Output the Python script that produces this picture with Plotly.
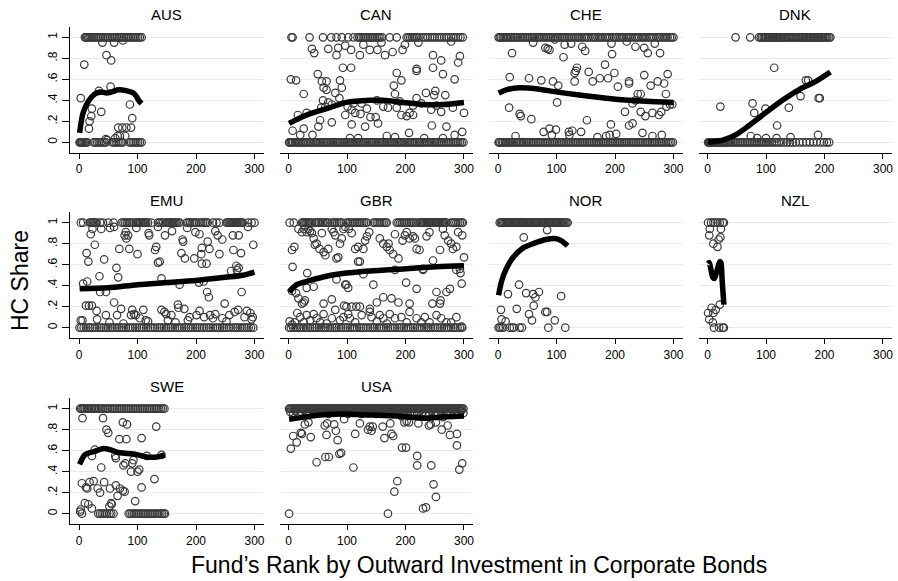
import plotly.graph_objects as go

# ---------------------------------------------------------------- data
countries = ["AUS", "CAN", "CHE", "DNK", "EMU", "GBR", "NOR", "NZL", "SWE", "USA"]

# AUS
aus_ones = [10, 12, 14, 16, 18, 20, 23, 26, 29, 32, 35, 38, 41, 44, 47, 50, 53, 56, 59, 62,
            65, 68, 71, 74, 77, 80, 83, 86, 89, 92, 95, 98, 101, 104, 107]
aus_zeros = [1, 2, 3, 4, 5, 6, 8, 10, 12, 14, 25, 28, 31, 34, 37, 40, 43, 46, 57, 60, 63,
             66, 69, 72, 75, 86, 89, 92, 95, 98, 101, 104, 107]
aus_mid_x = [40, 60, 75, 47, 55, 9, 3, 34, 54, 38, 22, 21, 18, 17, 87, 91, 67, 74, 81, 89,
             66, 70, 79, 46, 48, 62]
aus_mid_y = [0.95, 0.95, 0.97, 0.83, 0.78, 0.74, 0.42, 0.49, 0.53, 0.29, 0.32, 0.25, 0.20,
             0.13, 0.36, 0.23, 0.14, 0.14, 0.14, 0.14, 0.06, 0.06, 0.06, 0.03, 0.02, 0.04]
aus_fit_x = [1, 7, 16, 27, 36, 47, 56, 67, 82, 93, 99, 102, 107]
aus_fit_y = [0.09, 0.28, 0.39, 0.46, 0.48, 0.47, 0.48, 0.50, 0.49, 0.47, 0.43, 0.40, 0.37]

# CAN
can_ones = [5, 7, 36, 59, 73, 82, 91, 102, 111, 118, 121, 124, 127, 130, 133, 136, 139, 142,
            145, 148, 151, 154, 157, 160, 173, 185, 202, 205, 208, 211, 214, 217, 220, 224,
            230, 234, 238, 242, 246, 250, 254, 258, 262, 266, 270, 274, 278, 282, 286, 290,
            294, 298]
can_zeros = [1, 2, 4, 6, 8, 11, 13, 16, 18, 21, 24, 26, 29, 31, 34, 37, 39, 42, 45, 47, 50,
             53, 55, 58, 61, 64, 66, 69, 72, 74, 77, 80, 83, 85, 88, 91, 94, 96, 99, 102, 105,
             107, 110, 113, 116, 118, 121, 124, 127, 130, 132, 135, 138, 141, 143, 146, 149,
             152, 155, 157, 160, 163, 166, 169, 171, 174, 177, 180, 183, 186, 188, 191, 194,
             197, 200, 203, 205, 208, 211, 214, 217, 220, 223, 225, 228, 231, 234, 237, 240,
             243, 246, 249, 251, 254, 257, 260, 263, 266, 269, 272, 275, 278, 281, 284, 287,
             290, 293, 296, 299]
can_mid_x = [40, 44, 68, 82, 85, 97, 107, 122, 128, 139, 152, 159, 165, 178, 195, 199, 222,
             247, 261, 278, 290, 293, 93, 107, 185, 193, 219, 219, 247, 264, 284, 4, 13, 50,
             57, 65, 60, 65, 88, 91, 80, 87, 26, 180, 182, 219, 235, 249, 251, 268, 59, 68,
             63, 56, 74, 101, 108, 111, 125, 134, 151, 162, 170, 185, 190, 213, 227, 244, 253,
             261, 281, 300, 16, 31, 54, 51, 74, 97, 114, 123, 140, 149, 153, 108, 131, 193,
             202, 207, 213, 245, 270, 297, 26, 7, 20, 41, 206, 168, 182, 232, 264, 284, 105,
             119]
can_mid_y = [0.89, 0.85, 0.89, 0.83, 0.90, 0.92, 0.88, 0.83, 0.93, 0.88, 0.88, 0.95, 0.83,
             0.86, 0.88, 0.93, 0.95, 0.83, 0.78, 0.96, 0.76, 0.82, 0.71, 0.71, 0.66, 0.59,
             0.70, 0.68, 0.71, 0.65, 0.60, 0.60, 0.59, 0.65, 0.58, 0.58, 0.52, 0.50, 0.59,
             0.52, 0.47, 0.42, 0.46, 0.54, 0.46, 0.42, 0.47, 0.45, 0.49, 0.45, 0.40, 0.38,
             0.34, 0.33, 0.36, 0.34, 0.31, 0.37, 0.37, 0.32, 0.40, 0.34, 0.33, 0.33, 0.39,
             0.35, 0.37, 0.31, 0.35, 0.29, 0.33, 0.28, 0.26, 0.28, 0.21, 0.15, 0.19, 0.26,
             0.28, 0.27, 0.24, 0.24, 0.18, 0.17, 0.15, 0.26, 0.25, 0.28, 0.26, 0.16, 0.15,
             0.10, 0.13, 0.11, 0.07, 0.07, 0.09, 0.06, 0.05, 0.04, 0.04, 0.07, 0.04, 0.04]
can_fit_x = [1, 31, 65, 99, 139, 162, 196, 230, 264, 300]
can_fit_y = [0.18, 0.26, 0.32, 0.38, 0.40, 0.40, 0.38, 0.36, 0.36, 0.38]

# CHE
che_ones = [1, 3, 5, 8, 10, 13, 15, 18, 21, 23, 26, 29, 32, 34, 37, 40, 43, 46, 49, 52, 55,
            58, 61, 63, 66, 69, 72, 76, 79, 82, 85, 88, 91, 94, 97, 100, 103, 106, 109, 112,
            115, 118, 121, 124, 127, 131, 134, 137, 140, 143, 147, 150, 153, 156, 160, 163,
            166, 170, 173, 176, 179, 183, 186, 189, 192, 196, 199, 202, 206, 209, 212, 215,
            219, 222, 225, 228, 232, 235, 238, 241, 245, 248, 251, 254, 258, 261, 264, 267,
            271, 274, 277, 281, 284, 287, 290, 294, 297, 300]
che_zeros = [1, 2, 4, 7, 9, 12, 14, 17, 20, 22, 25, 28, 31, 33, 36, 39, 42, 45, 48, 50, 53,
             56, 59, 62, 65, 68, 71, 74, 77, 80, 83, 86, 89, 92, 95, 98, 101, 104, 107, 110,
             113, 116, 119, 122, 125, 128, 131, 134, 137, 140, 143, 146, 149, 152, 155, 158,
             161, 164, 167, 170, 173, 176, 179, 182, 185, 188, 191, 194, 197, 200, 203, 206,
             209, 212, 215, 218, 221, 224, 227, 230, 233, 236, 239, 242, 245, 248, 251, 254,
             257, 260, 263, 266, 269, 272, 275, 278, 281, 284, 287, 290, 293, 296, 299]
che_mid_x = [60, 24, 81, 85, 88, 97, 114, 125, 112, 144, 149, 194, 195, 220, 235, 250, 256,
             268, 277, 20, 53, 74, 94, 103, 131, 135, 133, 131, 155, 162, 174, 183, 188, 199,
             205, 224, 224, 239, 244, 250, 261, 273, 284, 290, 287, 101, 19, 37, 39, 57, 152,
             217, 230, 235, 244, 252, 264, 275, 279, 288, 294, 298, 193, 224, 230, 247, 264,
             280, 30, 78, 88, 92, 99, 121, 122, 127, 142, 170, 185, 191, 202]
che_mid_y = [0.95, 0.85, 0.90, 0.89, 0.88, 0.98, 0.93, 0.94, 0.81, 0.91, 0.87, 0.94, 0.84,
             0.96, 0.91, 0.90, 0.85, 0.94, 0.85, 0.62, 0.61, 0.59, 0.58, 0.54, 0.66, 0.71,
             0.68, 0.58, 0.67, 0.58, 0.61, 0.74, 0.61, 0.66, 0.53, 0.58, 0.56, 0.46, 0.46,
             0.64, 0.54, 0.58, 0.56, 0.65, 0.46, 0.38, 0.33, 0.27, 0.25, 0.22, 0.21, 0.29,
             0.37, 0.40, 0.29, 0.25, 0.28, 0.26, 0.29, 0.34, 0.36, 0.36, 0.17, 0.16, 0.18,
             0.09, 0.06, 0.07, 0.06, 0.10, 0.13, 0.07, 0.12, 0.10, 0.07, 0.11, 0.10, 0.05,
             0.06, 0.07, 0.08]
che_fit_x = [1, 14, 37, 65, 99, 139, 185, 224, 253, 300]
che_fit_y = [0.47, 0.50, 0.52, 0.51, 0.48, 0.45, 0.42, 0.40, 0.39, 0.38]

# DNK
dnk_ones = [48, 73, 88, 91, 93, 96, 98, 100, 103, 105, 107, 110, 112, 114, 117, 119, 121, 124,
            126, 128, 131, 133, 135, 138, 140, 142, 145, 147, 149, 152, 154, 156, 159, 161, 163,
            166, 168, 170, 173, 175, 177, 180, 182, 184, 187, 189, 191, 194, 196, 198, 201,
            203, 205, 208, 210]
dnk_zeros = [1, 2, 3, 4, 5, 6, 7, 8, 9, 10, 11, 12, 13, 14, 15, 16, 18, 20, 22, 24, 26, 28, 30,
             32, 35, 38, 40, 43, 46, 49, 52, 55, 58, 61, 64, 67, 70, 73, 76, 79, 82, 85, 88,
             91, 94, 97, 100, 103, 106, 110, 114, 118, 122, 126, 131, 136, 141, 146, 151, 157,
             163, 169, 175, 181, 187, 193, 199, 204, 208]
dnk_mid_x = [114, 168, 172, 159, 190, 192, 22, 77, 80, 99, 139, 119, 189, 74, 85, 100, 118, 142]
dnk_mid_y = [0.71, 0.59, 0.59, 0.44, 0.42, 0.42, 0.34, 0.37, 0.28, 0.32, 0.33, 0.16, 0.07,
             0.06, 0.04, 0.04, 0.04, 0.05]
dnk_fit_x = [1, 26, 48, 71, 99, 128, 156, 185, 210]
dnk_fit_y = [0.0, 0.02, 0.07, 0.16, 0.28, 0.40, 0.50, 0.58, 0.67]

# EMU
emu_ones = [3, 7, 18, 20, 22, 24, 26, 28, 30, 36, 41, 50, 59, 73, 76, 79, 82, 85, 88, 92, 97,
            99, 101, 103, 105, 107, 109, 111, 113, 115, 118, 124, 135, 138, 141, 144, 149, 151,
            153, 155, 157, 159, 161, 163, 165, 167, 170, 172, 184, 187, 190, 193, 196, 199, 201,
            206, 209, 212, 215, 218, 220, 229, 235, 240, 252, 254, 256, 258, 260, 262, 264,
            266, 268, 270, 272, 274, 276, 278, 280, 289, 295, 300]
emu_zeros = [1, 4, 8, 12, 16, 19, 23, 27, 31, 35, 38, 42, 46, 50, 54, 57, 61, 65, 69, 73, 76,
             80, 84, 88, 92, 96, 99, 103, 107, 111, 115, 118, 122, 126, 130, 134, 138, 141,
             145, 149, 153, 157, 160, 164, 168, 172, 176, 180, 183, 187, 191, 195, 199, 202,
             206, 210, 214, 218, 222, 225, 229, 233, 237, 241, 245, 248, 252, 256, 260, 264,
             268, 271, 275, 279, 283, 287, 290, 294, 298]
emu_mid_x = [3, 6, 7, 14, 13, 16, 20, 23, 12, 17, 22, 27, 30, 35, 36, 31, 38, 43, 46, 46, 52,
             53, 60, 60, 64, 67, 69, 65, 72, 76, 78, 80, 81, 84, 86, 89, 91, 94, 97, 98, 100,
             104, 110, 114, 118, 119, 120, 130, 132, 135, 138, 141, 135, 141, 146, 147, 149,
             152, 158, 159, 165, 169, 170, 172, 175, 177, 178, 181, 180, 185, 186, 189, 197,
             199, 201, 205, 206, 206, 209, 210, 210, 214, 213, 218, 219, 222, 220, 223, 224,
             229, 233, 233, 237, 240, 245, 245, 249, 252, 257, 260, 263, 264, 266, 269, 270,
             272, 273, 273, 277, 278, 283, 287, 289, 293, 297, 298, 295]
emu_mid_y = [0.07, 0.07, 0.42, 0.44, 0.71, 0.63, 0.89, 0.94, 0.21, 0.21, 0.21, 0.79, 0.16,
             0.49, 0.34, 0.08, 0.94, 0.65, 0.34, 0.12, 0.05, 0.95, 0.96, 0.24, 0.57, 0.48,
             0.75, 0.12, 0.18, 0.04, 0.88, 0.91, 0.85, 0.88, 0.75, 0.12, 0.17, 0.13, 0.12,
             0.95, 0.70, 0.09, 0.17, 0.07, 0.06, 0.90, 0.88, 0.74, 0.77, 0.62, 0.63, 0.47,
             0.96, 0.17, 0.15, 0.88, 0.13, 0.07, 0.12, 0.92, 0.05, 0.22, 0.19, 0.41, 0.71,
             0.84, 0.82, 0.66, 0.18, 0.95, 0.07, 0.10, 0.66, 0.91, 0.12, 0.43, 0.89, 0.16,
             0.70, 0.76, 0.61, 0.10, 0.44, 0.61, 0.34, 0.29, 0.82, 0.75, 0.12, 0.09, 0.13,
             0.92, 0.88, 0.70, 0.84, 0.09, 0.23, 0.06, 0.12, 0.54, 0.88, 0.74, 0.15, 0.59,
             0.55, 0.17, 0.57, 0.88, 0.71, 0.34, 0.10, 0.16, 0.96, 0.14, 0.10, 0.79, 0.08]
emu_fit_x = [1, 50, 100, 150, 200, 250, 280, 300]
emu_fit_y = [0.37, 0.38, 0.41, 0.43, 0.45, 0.48, 0.50, 0.53]

# GBR
gbr_ones = [2, 9, 23, 25, 27, 29, 31, 33, 35, 37, 40, 45, 47, 50, 52, 55, 58, 60, 63, 66, 68,
            74, 77, 80, 83, 86, 89, 91, 99, 102, 105, 108, 111, 114, 117, 120, 123, 126, 129,
            132, 134, 145, 148, 151, 154, 157, 160, 163, 166, 168, 185, 188, 191, 194, 197,
            200, 203, 206, 209, 212, 215, 219, 224, 226, 228, 230, 232, 234, 236, 238, 240,
            242, 244, 246, 248, 250, 252, 254, 256, 258, 260, 262, 264, 266, 268, 270, 278,
            281, 284, 287, 290, 293, 296, 298]
gbr_zeros = [1, 4, 8, 12, 15, 19, 22, 26, 30, 33, 37, 41, 45, 48, 52, 56, 60, 63, 67, 71, 75,
             79, 82, 86, 90, 94, 98, 101, 105, 109, 113, 117, 121, 124, 128, 132, 136, 140,
             144, 147, 151, 155, 159, 163, 167, 170, 174, 178, 182, 186, 190, 193, 197, 201,
             205, 209, 213, 216, 220, 224, 228, 232, 236, 239, 243, 247, 251, 255, 259, 262,
             266, 270, 274, 278, 282, 285, 289, 293, 297]
gbr_mid_x = [6, 10, 7, 17, 23, 26, 31, 34, 37, 40, 43, 45, 48, 53, 57, 60, 63, 68, 74, 77, 80,
             82, 85, 88, 91, 94, 97, 103, 108, 114, 119, 119, 122, 128, 131, 134, 138, 156,
             162, 168, 171, 173, 179, 182, 188, 195, 199, 202, 207, 213, 216, 219, 224, 230,
             236, 241, 247, 259, 264, 267, 273, 278, 281, 287, 290, 293, 294, 296, 300, 297,
             6, 13, 17, 23, 26, 28, 31, 32, 43, 60, 74, 82, 97, 99, 102, 95, 99, 108, 116, 122,
             128, 139, 145, 151, 162, 176, 182, 188, 201, 207, 219, 230, 246, 253, 259, 260,
             270, 276, 287,
             2, 6, 11, 15, 20, 26, 31, 37, 43, 48, 54, 60, 65, 74, 80, 88, 94, 102, 105, 114,
             125, 139, 142, 151, 156, 162, 168, 173, 182, 193, 202, 207, 219, 227, 233, 241,
             253, 261, 270, 278, 287, 296]
gbr_mid_y = [0.74, 0.77, 0.58, 0.94, 0.91, 0.94, 0.91, 0.94, 0.92, 0.90, 0.85, 0.79, 0.80,
             0.75, 0.90, 0.72, 0.69, 0.75, 0.94, 0.91, 0.88, 0.66, 0.67, 0.80, 0.85, 0.94,
             0.96, 0.94, 0.90, 0.75, 0.77, 0.63, 0.63, 0.75, 0.83, 0.87, 0.91, 0.85, 0.80,
             0.77, 0.80, 0.74, 0.70, 0.89, 0.66, 0.83, 0.88, 0.91, 0.85, 0.87, 0.85, 0.75,
             0.74, 0.56, 0.87, 0.91, 0.64, 0.74, 0.94, 0.88, 0.83, 0.80, 0.75, 0.77, 0.91,
             0.56, 0.52, 0.42, 0.67, 0.88,
             0.35, 0.33, 0.28, 0.23, 0.24, 0.26, 0.38, 0.52, 0.39, 0.23, 0.27, 0.46, 0.41,
             0.41, 0.38, 0.21, 0.20, 0.20, 0.20, 0.20, 0.51, 0.18, 0.41, 0.24, 0.29, 0.28,
             0.55, 0.24, 0.43, 0.23, 0.37, 0.55, 0.23, 0.34, 0.23, 0.26, 0.34, 0.37, 0.55,
             0.06, 0.03, 0.05, 0.14, 0.10, 0.05, 0.12, 0.07, 0.13, 0.09, 0.05, 0.13, 0.04,
             0.09, 0.17, 0.07, 0.10, 0.13, 0.09, 0.05, 0.12, 0.15, 0.10, 0.06, 0.12, 0.09,
             0.04, 0.13, 0.09, 0.10, 0.05, 0.15, 0.09, 0.05, 0.10, 0.05, 0.12, 0.09, 0.05,
             0.05, 0.10, 0.01]
gbr_fit_x = [1, 14, 37, 65, 99, 139, 196, 253, 300]
gbr_fit_y = [0.34, 0.41, 0.45, 0.49, 0.52, 0.54, 0.56, 0.58, 0.59]

# NOR
nor_ones = [3, 5, 7, 9, 11, 13, 15, 17, 19, 21, 23, 25, 27, 29, 31, 33, 35, 37, 39, 41, 43,
            45, 47, 49, 51, 53, 55, 57, 59, 61, 63, 65, 67, 69, 71, 73, 75, 77, 79, 81, 83, 85,
            87, 89, 91, 93, 95, 97, 99, 101, 103, 105, 107, 109, 111, 113, 115, 117, 119]
nor_zeros = [1, 3, 6, 9, 20, 24, 27, 37, 41, 86, 115]
nor_mid_x = [84, 44, 36, 17, 48, 60, 64, 70, 108, 61, 32, 5, 53, 81, 84, 6, 13, 58, 97]
nor_mid_y = [0.93, 0.86, 0.41, 0.32, 0.33, 0.32, 0.29, 0.34, 0.30, 0.21, 0.18, 0.17, 0.13,
             0.15, 0.15, 0.08, 0.06, 0.07, 0.07]
nor_fit_x = [1, 6, 14, 26, 43, 60, 82, 97, 108, 119]
nor_fit_y = [0.31, 0.44, 0.56, 0.67, 0.76, 0.80, 0.84, 0.85, 0.83, 0.78]

# NZL
nzl_ones = [1, 6, 10, 13, 17, 21, 26, 28]
nzl_zeros = [11, 20, 26, 28]
nzl_mid_x = [4, 23, 3, 22, 19, 10, 17, 7, 14, 21, 1, 10, 3, 9]
nzl_mid_y = [0.94, 0.94, 0.88, 0.86, 0.84, 0.80, 0.77, 0.19, 0.17, 0.22, 0.14, 0.14, 0.08,
             0.05]
nzl_fit_x = [1, 3, 6, 9, 12, 15, 18, 21, 23, 25, 27, 28]
nzl_fit_y = [0.61, 0.62, 0.55, 0.48, 0.47, 0.52, 0.58, 0.63, 0.62, 0.45, 0.30, 0.22]

# SWE
swe_ones = [2, 4, 6, 8, 10, 13, 15, 17, 20, 22, 25, 27, 30, 33, 35, 38, 41, 44, 47, 50, 53,
            56, 59, 62, 65, 68, 71, 74, 77, 80, 83, 86, 89, 92, 95, 98, 101, 104, 107, 110,
            113, 116, 119, 122, 125, 128, 131, 134, 137, 140, 143, 146]
swe_zeros = [5, 33, 36, 39, 42, 45, 48, 52, 55, 59, 85, 88, 91, 94, 97, 100, 103, 106, 109,
             112, 115, 118, 121, 124, 127, 130, 133, 136, 139, 142, 145, 147]
swe_mid_x = [6, 41, 75, 82, 47, 50, 69, 81, 107, 132, 5, 22, 27, 38, 43, 18, 25, 12, 14, 32,
             36, 53, 63, 66, 70, 75, 78, 76, 79, 91, 93, 89, 100, 103, 107, 96, 129, 116, 141,
             62, 63, 56, 52, 55, 2, 3, 10, 16, 22]
swe_mid_y = [0.91, 0.91, 0.87, 0.85, 0.80, 0.77, 0.71, 0.71, 0.72, 0.83, 0.29, 0.55, 0.61,
             0.44, 0.30, 0.30, 0.31, 0.25, 0.24, 0.24, 0.20, 0.24, 0.27, 0.17, 0.24, 0.22,
             0.21, 0.46, 0.48, 0.48, 0.51, 0.40, 0.40, 0.42, 0.25, 0.12, 0.33, 0.55, 0.56,
             0.55, 0.53, 0.09, 0.07, 0.10, 0.02, 0.04, 0.10, 0.09, 0.05]
swe_fit_x = [1, 10, 25, 42, 53, 70, 93, 116, 133, 147]
swe_fit_y = [0.47, 0.56, 0.59, 0.62, 0.61, 0.58, 0.57, 0.54, 0.54, 0.56]

# USA
usa_ones = [1, 3, 5, 7, 9, 11, 13, 15, 17, 19, 21, 23, 25, 27, 29, 31, 33, 35, 37, 39, 41, 43,
            45, 47, 49, 51, 53, 55, 57, 59, 61, 63, 65, 67, 69, 71, 73, 75, 77, 79, 81, 83, 85,
            87, 89, 91, 93, 95, 97, 99, 101, 103, 105, 107, 109, 111, 113, 115, 117, 119, 121,
            123, 125, 127, 129, 131, 133, 135, 137, 139, 141, 143, 145, 147, 149, 151, 153,
            155, 157, 159, 161, 163, 165, 167, 169, 171, 173, 175, 177, 179, 181, 183, 185,
            187, 189, 191, 193, 195, 197, 199, 201, 203, 205, 207, 209, 211, 213, 215, 217,
            219, 221, 223, 225, 227, 229, 231, 233, 235, 237, 239, 241, 243, 245, 247, 249,
            251, 253, 255, 257, 259, 261, 263, 265, 267, 269, 271, 273, 275, 277, 279, 281,
            283, 285, 287, 289, 291, 293, 295, 297, 299]
usa_zeros = [1, 170]
usa_mid_x = [3, 8, 12, 17, 22, 26, 31, 36, 41, 45, 50, 55, 59, 64, 69, 73, 78, 83, 88, 92, 97,
             102, 106, 111, 116, 121, 125, 130, 135, 140, 145, 150, 155, 160, 165, 170, 175,
             180, 185, 190, 195, 200, 205, 210, 215, 220, 225, 230, 235, 240, 245, 250, 255,
             260, 265, 270, 275, 280, 285, 290, 295, 299,
             4, 8, 14, 21, 23, 28, 34, 38, 48, 62, 66, 65, 63, 69, 78, 81, 84, 87, 90, 95, 111,
             114, 122, 136, 139, 142, 144, 161, 164, 174, 176, 179, 181, 186, 194, 201, 198,
             202, 206, 220, 220, 222, 230, 235, 240, 243, 244, 248, 252, 252, 262, 272, 276,
             288, 288, 292, 297, 264, 234, 193]
usa_mid_y = [0.97, 0.96, 0.98, 0.95, 0.97, 0.99, 0.96, 0.97, 0.98, 0.95, 0.97, 0.96, 0.98,
             0.97, 0.95, 0.98, 0.96, 0.97, 0.99, 0.96, 0.97, 0.95, 0.98, 0.96, 0.97, 0.98,
             0.95, 0.97, 0.96, 0.98, 0.97, 0.95, 0.98, 0.96, 0.97, 0.99, 0.96, 0.97, 0.95,
             0.98, 0.96, 0.97, 0.98, 0.95, 0.97, 0.96, 0.98, 0.97, 0.95, 0.96, 0.98, 0.97,
             0.96, 0.98, 0.95, 0.97, 0.96, 0.98, 0.97, 0.95, 0.98, 0.96,
             0.62, 0.74, 0.68, 0.77, 0.76, 0.85, 0.87, 0.73, 0.49, 0.84, 0.86, 0.75, 0.54,
             0.54, 0.85, 0.79, 0.70, 0.57, 0.58, 0.90, 0.44, 0.76, 0.86, 0.80, 0.83, 0.79,
             0.83, 0.83, 0.72, 0.86, 0.76, 0.74, 0.21, 0.31, 0.63, 0.63, 0.87, 0.88, 0.87,
             0.55, 0.46, 0.86, 0.05, 0.06, 0.84, 0.85, 0.46, 0.28, 0.16, 0.87, 0.80, 0.84,
             0.75, 0.76, 0.65, 0.42, 0.48, 0.92, 0.94, 0.93]
usa_fit_x = [1, 26, 54, 94, 139, 185, 230, 264, 300]
usa_fit_y = [0.90, 0.92, 0.94, 0.95, 0.94, 0.93, 0.91, 0.92, 0.93]

panels = {
    "AUS": (aus_ones, aus_zeros, aus_mid_x, aus_mid_y, aus_fit_x, aus_fit_y),
    "CAN": (can_ones, can_zeros, can_mid_x, can_mid_y, can_fit_x, can_fit_y),
    "CHE": (che_ones, che_zeros, che_mid_x, che_mid_y, che_fit_x, che_fit_y),
    "DNK": (dnk_ones, dnk_zeros, dnk_mid_x, dnk_mid_y, dnk_fit_x, dnk_fit_y),
    "EMU": (emu_ones, emu_zeros, emu_mid_x, emu_mid_y, emu_fit_x, emu_fit_y),
    "GBR": (gbr_ones, gbr_zeros, gbr_mid_x, gbr_mid_y, gbr_fit_x, gbr_fit_y),
    "NOR": (nor_ones, nor_zeros, nor_mid_x, nor_mid_y, nor_fit_x, nor_fit_y),
    "NZL": (nzl_ones, nzl_zeros, nzl_mid_x, nzl_mid_y, nzl_fit_x, nzl_fit_y),
    "SWE": (swe_ones, swe_zeros, swe_mid_x, swe_mid_y, swe_fit_x, swe_fit_y),
    "USA": (usa_ones, usa_zeros, usa_mid_x, usa_mid_y, usa_fit_x, usa_fit_y),
}

y_tick_vals = [0, 0.2, 0.4, 0.6, 0.8, 1]
y_tick_text = ["0", ".2", ".4", ".6", ".8", "1"]
x_tick_vals = [0, 100, 200, 300]

# ---------------------------------------------------------------- layout geometry
W, H = 898, 581
COL_LEFT = [70, 279.5, 489, 698.5]
PANEL_W = 193.5
ROW_TOP = [26.8, 212.2, 398.2]
PANEL_H = 126
X_RANGE = [-15.4, 315.4]
Y_RANGE = [-0.1, 1.1]

FONT = "Liberation Sans, Arial, Helvetica, sans-serif"
MARKER_COLOR = "#3a3a3a"
GRID_COLOR = "#e4edf0"

fig = go.Figure()
layout = dict(
    width=W, height=H,
    margin=dict(l=0, r=0, t=0, b=0),
    paper_bgcolor="white", plot_bgcolor="white",
    showlegend=False,
    font=dict(family=FONT, color="black"),
    annotations=[],
)

for i, name in enumerate(countries):
    ones, zeros, mid_x, mid_y, fit_x, fit_y = panels[name]
    row, col = divmod(i, 4)
    ax = "" if i == 0 else str(i + 1)

    xs = list(ones) + list(zeros) + list(mid_x)
    ys = [1.0] * len(ones) + [0.0] * len(zeros) + list(mid_y)

    fig.add_trace(go.Scatter(
        x=xs, y=ys, mode="markers",
        marker=dict(symbol="circle-open", size=7.5, color=MARKER_COLOR,
                    line=dict(width=1.2, color=MARKER_COLOR)),
        xaxis="x" + ax, yaxis="y" + ax, hoverinfo="skip",
    ))
    fig.add_trace(go.Scatter(
        x=fit_x, y=fit_y, mode="lines",
        line=dict(color="black", width=5.5, shape="spline", smoothing=0.8),
        xaxis="x" + ax, yaxis="y" + ax, hoverinfo="skip",
    ))

    left = COL_LEFT[col]
    top = ROW_TOP[row]
    x_dom = [left / W, (left + PANEL_W) / W]
    y_dom = [(H - top - PANEL_H) / H, (H - top) / H]
    first_col = col == 0

    layout["xaxis" + ax] = dict(
        domain=x_dom, range=X_RANGE, anchor="y" + ax,
        tickvals=x_tick_vals, ticks="outside", ticklen=5, tickwidth=1,
        tickcolor="black", showline=True, linecolor="black", linewidth=1,
        showgrid=False, zeroline=False,
        tickfont=dict(size=12, family=FONT, color="black"),
    )
    layout["yaxis" + ax] = dict(
        domain=y_dom, range=Y_RANGE, anchor="x" + ax,
        tickvals=y_tick_vals, ticktext=y_tick_text,
        showticklabels=first_col, tickangle=-90,
        ticks="outside" if first_col else "", ticklen=7, tickwidth=1, tickcolor="black",
        showline=first_col, linecolor="black", linewidth=1,
        showgrid=True, gridcolor=GRID_COLOR, gridwidth=1, zeroline=False,
        tickfont=dict(size=12, family=FONT, color="black"),
    )
    layout["annotations"].append(dict(
        text=name, xref="paper", yref="paper",
        x=(left + PANEL_W / 2) / W, y=(H - top + 12) / H,
        xanchor="center", yanchor="middle", showarrow=False,
        font=dict(size=15, family=FONT, color="black"),
    ))

layout["annotations"].append(dict(
    text="HC Share", xref="paper", yref="paper", x=20 / W, y=(H - 281) / H,
    xanchor="center", yanchor="middle", textangle=-90, showarrow=False,
    font=dict(size=23, family=FONT, color="black"),
))
layout["annotations"].append(dict(
    text="Fund\u2019s Rank by Outward Investment in Corporate Bonds",
    xref="paper", yref="paper", x=479 / W, y=(H - 565) / H,
    xanchor="center", yanchor="middle", showarrow=False,
    font=dict(size=23, family=FONT, color="black"),
))

fig.update_layout(**layout)
fig.write_html("out.html")
